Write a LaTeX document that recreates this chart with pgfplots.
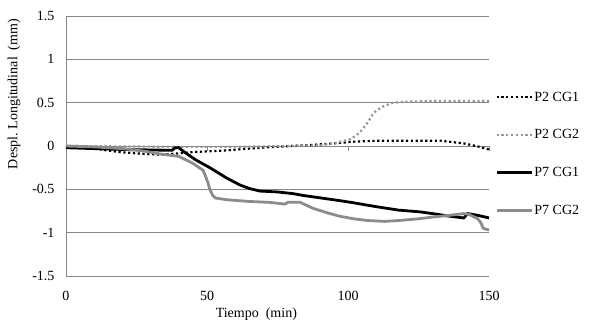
\documentclass[border=0pt]{standalone}
\usepackage{pgfplots}
\pgfplotsset{compat=1.18}
\usepackage{fontspec}
\setmainfont{Liberation Serif}
\definecolor{gridgray}{RGB}{134,134,134}
\definecolor{linegray}{RGB}{140,140,140}
\definecolor{dotgray}{RGB}{150,150,150}
\begin{document}
\begin{tikzpicture}
\useasboundingbox (0,0) rectangle (601pt,327pt);
\begin{axis}[
  at={(66pt,51pt)}, anchor=south west,
  scale only axis, width=423pt, height=260pt,
  xmin=0, xmax=150, ymin=-1.5, ymax=1.5,
  xtick={0,50,100,150},
  ytick={-1.5,-1,-0.5,0,0.5,1,1.5},
  axis lines*=left,
  axis line style={gridgray, line width=0.8pt, -},
  ymajorgrids,
  grid style={gridgray, line width=0.8pt},
  major tick length=0pt,
  clip=false,
  /pgf/number format/assume math mode=true,
  ticklabel style={font=\fontsize{14}{16}\selectfont},
  yticklabel style={anchor=east, xshift=-8pt},
  xticklabel style={anchor=north, yshift=-12pt},
  xlabel={Tiempo\ \ (min)},
  ylabel={Despl.\ Longitudinal\ \ (mm)},
  label style={font=\fontsize{14}{16}\selectfont},
  xlabel style={at={(axis description cs:0.45,-0.146)}, anchor=center},
  ylabel style={at={(axis description cs:-0.123,0.70)}, anchor=center},
  legend style={draw=none, fill=none, at={(axis description cs:1.014,0.715)}, anchor=north west,
    font=\fontsize{14}{16}\selectfont, row sep=24pt, inner sep=0pt,
    nodes={inner sep=1.5pt}},
  legend cell align=left,
  legend image code/.code={\draw[#1] (0pt,0pt) -- (35pt,0pt);},
]
% tick marks on the zero line
\draw[gridgray, line width=0.8pt] (axis cs:50,0) -- (axis cs:50,-0.06);
\draw[gridgray, line width=0.8pt] (axis cs:100,0) -- (axis cs:100,-0.06);
\draw[gridgray, line width=0.8pt] (axis cs:150,0) -- (axis cs:150,-0.06);

\addplot[black, line width=2.2pt, dash pattern=on 2.2pt off 2.6pt] coordinates {
(0,-0.01) (10,-0.03) (19,-0.07) (27,-0.09) (33,-0.1) (38,-0.09) (45,-0.07)
(57,-0.05) (69,-0.02) (80,0.0) (86,0.01) (95,0.03) (102,0.05) (110,0.06)
(120,0.06) (133,0.06) (141,0.03) (145.5,0.0) (150,-0.04)
};
\addlegendentry{P2 CG1}

\addplot[dotgray, line width=2.2pt, dash pattern=on 2.2pt off 2.6pt] coordinates {
(0,0) (20,-0.005) (40,-0.01) (60,-0.01) (80,0) (90,0.01) (95,0.03) (101,0.08)
(104,0.15) (107,0.27) (109,0.38) (112,0.45) (116,0.5) (120,0.51) (130,0.52) (150,0.52)
};
\addlegendentry{P2 CG2}

\addplot[black, line width=2.8pt] coordinates {
(0,-0.02) (20,-0.04) (37.6,-0.05) (38.7,-0.02) (40,-0.02) (42,-0.07) (46,-0.16)
(51,-0.25) (57,-0.37) (61.7,-0.45) (65,-0.49) (68.8,-0.52) (75,-0.53) (80.6,-0.55)
(84,-0.57) (97,-0.63) (101,-0.65) (110,-0.7) (118,-0.74) (125.5,-0.76)
(130,-0.78) (136,-0.81) (141,-0.83) (141.6,-0.81) (142.5,-0.78) (146,-0.8) (150,-0.83)
};
\addlegendentry{P7 CG1}

\addplot[linegray, line width=2.8pt] coordinates {
(0,0) (10,-0.01) (20,-0.03) (28,-0.06) (33,-0.09) (40,-0.12) (45,-0.2)
(48.6,-0.28) (49.5,-0.35) (50.4,-0.43) (51,-0.5) (52,-0.57) (53,-0.6)
(57,-0.62) (65,-0.64) (72,-0.65) (77.7,-0.67) (78.7,-0.65) (83,-0.65)
(87.7,-0.72) (92.5,-0.77) (97,-0.81) (102,-0.84) (107,-0.86) (113,-0.87)
(118,-0.86) (125,-0.84) (130,-0.82) (136,-0.8) (141,-0.78) (143,-0.79)
(146,-0.84) (147,-0.88) (148,-0.95) (150,-0.97)
};
\addlegendentry{P7 CG2}
\end{axis}
\end{tikzpicture}
\end{document}
